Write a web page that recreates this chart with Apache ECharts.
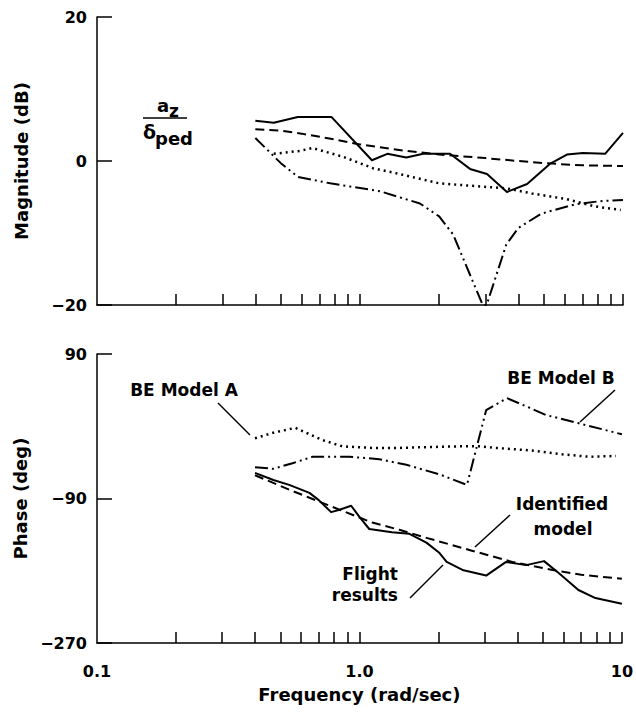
<!DOCTYPE html>
<html>
<head>
<meta charset="utf-8">
<script src="https://cdn.jsdelivr.net/npm/echarts@6/dist/echarts.min.js"></script>
<style>
  html, body { margin: 0; padding: 0; background: #fff; }
  #chart { width: 636px; height: 715px; }
</style>
</head>
<body>
<div id="chart"></div>
<script>
// ---- Frequency response of a_z / delta_ped ----

// Magnitude (dB)
const flightMagFreq = [0.40, 0.47, 0.58, 0.78, 1.11, 1.27, 1.50, 1.74, 2.20, 2.62, 3.04, 3.62, 4.32, 5.27, 6.12, 7.04, 8.55, 10.0];
const flightMag     = [5.6, 5.3, 6.1, 6.1, 0.1, 1.0, 0.5, 1.0, 1.0, -1.1, -1.8, -4.3, -3.2, -0.4, 0.9, 1.1, 1.0, 3.9];

const identMagFreq = [0.40, 0.50, 0.60, 0.80, 1.00, 1.50, 2.00, 3.00, 4.00, 5.00, 7.00, 10.0];
const identMag     = [4.4, 4.2, 3.8, 3.0, 2.3, 1.4, 0.9, 0.4, 0.0, -0.3, -0.6, -0.7];

const modelAMagFreq = [0.47, 0.59, 0.66, 0.86, 1.12, 1.41, 2.00, 2.78, 3.60, 4.50, 6.10, 7.80, 9.80];
const modelAMag     = [1.0, 1.4, 1.8, 0.6, -1.0, -1.8, -3.1, -3.5, -3.8, -4.5, -5.3, -6.3, -6.8];

const modelBMagFreq = [0.40, 0.50, 0.58, 0.77, 1.19, 1.69, 2.00, 2.26, 2.62, 2.93, 3.03, 3.60, 4.00, 4.90, 6.60, 8.10, 10.0];
const modelBMag     = [3.2, -0.3, -2.2, -3.1, -4.2, -5.9, -7.7, -10.2, -15.8, -20, -20, -11.6, -9.3, -7.3, -6.0, -5.6, -5.4];

// Phase (deg)
const flightPhFreq = [0.40, 0.47, 0.54, 0.645, 0.70, 0.78, 0.84, 0.93, 1.00, 1.09, 1.33, 1.55, 1.80, 2.02, 2.15, 2.47, 3.04, 3.62, 4.32, 5.05, 5.76, 6.83, 7.93, 10.0];
const flightPh     = [-58, -67, -73, -83, -92, -107, -104, -99, -113, -128, -132, -134, -145, -158, -169, -179, -186, -169, -173, -168, -183, -204, -214, -221];

const identPhFreq = [0.40, 0.54, 0.645, 0.84, 1.12, 1.42, 1.80, 2.68, 3.83, 5.44, 7.00, 10.0];
const identPh     = [-61, -79, -89, -104, -120, -129, -139, -155, -169, -179, -185, -190];

const modelAPhFreq = [0.40, 0.47, 0.57, 0.72, 0.86, 1.12, 1.42, 1.80, 2.40, 2.86, 3.30, 4.45, 5.93, 7.50, 9.50];
const modelAPh     = [-15, -8, -2, -17, -25, -27, -27, -26, -25, -25, -27, -30, -35, -38, -37];

const modelBPhFreq = [0.40, 0.47, 0.556, 0.663, 0.914, 1.19, 1.51, 2.02, 2.57, 3.04, 3.65, 4.45, 5.14, 6.80, 10.0];
const modelBPh     = [-51, -53, -46, -38, -38, -41, -48, -60, -73, 20, 35, 23, 14, 4, -10];

// Axis ticks
const freqLabelValues = [0.1, 1, 10];
const freqLabels      = ['0.1', '1.0', '10'];
const freqTickValues  = [0.2, 0.3, 0.4, 0.5, 0.6, 0.7, 0.8, 0.9, 1, 2, 3, 4, 5, 6, 7, 8, 9, 10];
const magTicks   = [-20, 0, 20];
const phaseTicks = [-270, -90, 90];

// ---- helpers ----
const FONT = '"DejaVu Sans", "Liberation Sans", sans-serif';
const pairs = (xs, ys) => xs.map((x, i) => [x, ys[i]]);
const fmtSigned = v => String(v).replace('-', '\u2212');
const freqLabel = v => {
  const i = freqLabelValues.findIndex(f => Math.abs(f - v) < 1e-6 * f);
  return i >= 0 ? freqLabels[i] : '';
};

const STYLES = {
  solid:   { type: 'solid', width: 2 },
  dashed:  { type: [9, 5], width: 2 },
  dotted:  { type: [2, 4], width: 2.5 },
  dashdot: { type: [13, 4, 2, 4, 2, 4], width: 2 }
};

function line(name, xs, ys, style, xi, yi) {
  return {
    name, type: 'line', xAxisIndex: xi, yAxisIndex: yi,
    data: pairs(xs, ys), showSymbol: false, symbol: 'none', smooth: false,
    lineStyle: Object.assign({ color: '#000', cap: 'butt', join: 'round' }, STYLES[style]),
    silent: true, z: 3
  };
}

const axisLine = { show: true, onZero: false, lineStyle: { color: '#000', width: 1.5 } };

function logAxis(grid, withLabels) {
  return {
    gridIndex: grid, type: 'log', logBase: 10, min: 0.1, max: 10,
    axisLine, axisTick: { show: false }, splitLine: { show: false },
    axisLabel: {
      show: withLabels, formatter: freqLabel, margin: 20,
      color: '#000', fontFamily: FONT, fontWeight: 'bold', fontSize: 16
    },
    name: withLabels ? 'Frequency (rad/sec)' : '',
    nameLocation: 'middle', nameGap: 42,
    nameTextStyle: { color: '#000', fontFamily: FONT, fontWeight: 'bold', fontSize: 18 }
  };
}

// Decade tick marks drawn on a companion axis measured in log10(frequency)
function tickAxis(grid) {
  return {
    gridIndex: grid, type: 'value', min: -1, max: 1, position: 'bottom',
    axisLine: { show: false, onZero: false }, splitLine: { show: false }, axisLabel: { show: false },
    axisTick: {
      show: true, inside: true, length: 11,
      customValues: freqTickValues.map(f => Math.log10(f)),
      lineStyle: { color: '#000', width: 1.5 }
    }
  };
}

function valueAxis(grid, min, max, ticks, name) {
  return {
    gridIndex: grid, type: 'value', min, max,
    axisLine, splitLine: { show: false },
    axisTick: { show: true, inside: true, length: 15, customValues: ticks, lineStyle: { color: '#000', width: 1.5 } },
    axisLabel: {
      customValues: ticks, formatter: fmtSigned, margin: 10,
      color: '#000', fontFamily: FONT, fontWeight: 'bold', fontSize: 16
    },
    name, nameLocation: 'middle', nameRotate: 90, nameGap: 67,
    nameTextStyle: { color: '#000', fontFamily: FONT, fontWeight: 'bold', fontSize: 18 }
  };
}

function txt(text, x, y, size, align, weight) {
  return {
    type: 'text', x, y, silent: true, z: 10,
    style: {
      text, fill: '#000',
      font: (weight || 'bold') + ' ' + size + 'px ' + FONT,
      align: align || 'left', verticalAlign: 'middle',
      textAlign: align || 'left', textVerticalAlign: 'middle'
    }
  };
}
function seg(x1, y1, x2, y2) {
  return { type: 'line', silent: true, z: 10, shape: { x1, y1, x2, y2 }, style: { stroke: '#000', lineWidth: 1.5 } };
}

const chart = echarts.init(document.getElementById('chart'), null, { renderer: 'svg', width: 636, height: 715 });

chart.setOption({
  animation: false,
  backgroundColor: '#fff',
  grid: [
    { left: 97, top: 17, width: 526, height: 288 },
    { left: 97, top: 354, width: 526, height: 289 }
  ],
  xAxis: [logAxis(0, false), tickAxis(0), logAxis(1, true), tickAxis(1)],
  yAxis: [
    valueAxis(0, -20, 20, magTicks, 'Magnitude (dB)'),
    valueAxis(1, -270, 90, phaseTicks, 'Phase (deg)')
  ],
  series: [
    line('Flight results', flightMagFreq, flightMag, 'solid', 0, 0),
    line('Identified model', identMagFreq, identMag, 'dashed', 0, 0),
    line('BE Model A', modelAMagFreq, modelAMag, 'dotted', 0, 0),
    line('BE Model B', modelBMagFreq, modelBMag, 'dashdot', 0, 0),
    line('Flight results', flightPhFreq, flightPh, 'solid', 2, 1),
    line('Identified model', identPhFreq, identPh, 'dashed', 2, 1),
    line('BE Model A', modelAPhFreq, modelAPh, 'dotted', 2, 1),
    line('BE Model B', modelBPhFreq, modelBPh, 'dashdot', 2, 1)
  ],
  graphic: [
    // transfer function label
    txt('a', 157, 105, 18),
    txt('z', 169, 111, 17),
    seg(143, 118, 187, 118),
    txt('\u03b4', 143, 132, 19),
    txt('ped', 155, 138, 18),
    // curve annotations
    txt('BE Model A', 184, 390, 17, 'center'),
    seg(218, 403, 250, 435),
    txt('BE Model B', 561, 378, 17, 'center'),
    seg(615, 390, 580, 422),
    txt('Identified', 562, 504, 17, 'center'),
    txt('model', 563, 529, 17, 'center'),
    seg(510, 515, 475, 547),
    txt('Flight', 398, 574, 17, 'right'),
    txt('results', 398, 595, 17, 'right'),
    seg(410, 598, 443, 565)
  ]
});
</script>
</body>
</html>
